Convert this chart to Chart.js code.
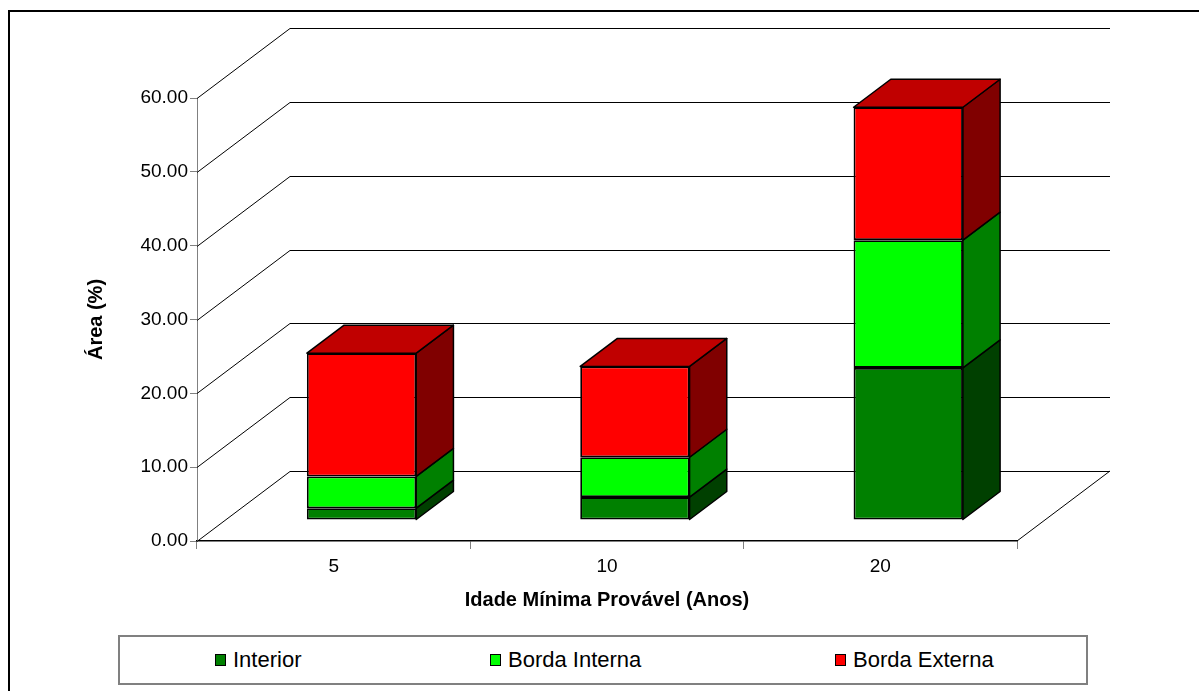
<!DOCTYPE html>
<html>
<head>
<meta charset="utf-8">
<title>Área por idade mínima provável</title>
<script src="https://cdn.jsdelivr.net/npm/chart.js@4.4.1/dist/chart.umd.min.js"></script>
<style>
  html, body { margin: 0; padding: 0; background: #fff; overflow: hidden; }
  #wrap { position: relative; width: 1199px; height: 691px; overflow: hidden; }
  #frame { position: absolute; left: 8px; top: 10px; width: 1300px; height: 800px; border: 2px solid #000; box-sizing: border-box; }
  #chart { position: absolute; left: 0; top: 0; }
  #legend { position: absolute; left: 118px; top: 635px; width: 970px; height: 50px; border: 2px solid #808080; box-sizing: border-box; background: #fff; }
  .item { position: absolute; top: 0; height: 100%; display: flex; align-items: center; font: 22px "Liberation Sans", Arial, sans-serif; color: #000; white-space: nowrap; }
  .swatch { width: 11px; height: 12px; border: 1px solid #000; box-sizing: border-box; margin-right: 7px; }
</style>
</head>
<body>
<div id="wrap">
  <div id="frame"></div>
  <canvas id="chart" width="1199" height="691"></canvas>
  <div id="legend"></div>
</div>
<script>
// data
const categories = ['5', '10', '20'];
const interior = [1.6, 3.1, 20.6];
const bordaInterna = [4.3, 5.4, 17.3];
const bordaExterna = [16.7, 12.3, 18.0];
const yMin = 0, yMax = 60, yStep = 10;

// 3d look (excel style): depth of the floor and where the bars sit in it
const DX = 93, DY = -70;
const BAR_FRONT = 0.3, BAR_DEPTH = 0.4;
const LEGEND_LEFT = [95, 370, 715];

const font = '"Liberation Sans", Arial, sans-serif';

// walls, floor, and the side/top faces of the bars
const depth3d = {
    id: 'depth3d',
    beforeDatasetsDraw(chart) {
        const { ctx, chartArea: a, scales: { y } } = chart;
        ctx.save();
        ctx.strokeStyle = '#000';
        ctx.lineWidth = 1;
        y.ticks.forEach(t => {
            const py = Math.round(y.getPixelForValue(t.value)) + 0.5;
            ctx.beginPath();
            ctx.moveTo(a.left, py);
            ctx.lineTo(a.left + DX, py + DY);
            ctx.lineTo(a.right + DX, py + DY);
            ctx.stroke();
        });
        ctx.beginPath();
        ctx.moveTo(a.right, a.bottom);
        ctx.lineTo(a.right + DX, a.bottom + DY);
        ctx.stroke();
        ctx.restore();

        // bars stand in the middle of the floor depth
        ctx.save();
        ctx.translate(DX * BAR_FRONT, DY * BAR_FRONT);
    },
    afterDatasetsDraw(chart) {
        const ctx = chart.ctx;
        const bx = DX * BAR_DEPTH, by = DY * BAR_DEPTH;
        const last = chart.data.datasets.length - 1;
        ctx.lineWidth = 1.5;
        ctx.lineJoin = 'round';
        ctx.strokeStyle = '#000';
        chart.data.datasets.forEach((ds, i) => {
            const meta = chart.getDatasetMeta(i);
            meta.data.forEach(el => {
                const { x, y, base, width } = el.getProps(['x', 'y', 'base', 'width'], true);
                const l = x - width / 2, r = x + width / 2;
                // right side
                ctx.beginPath();
                ctx.moveTo(r, y);
                ctx.lineTo(r + bx, y + by);
                ctx.lineTo(r + bx, base + by);
                ctx.lineTo(r, base);
                ctx.closePath();
                ctx.fillStyle = ds.sideColor;
                ctx.fill();
                ctx.stroke();
                // top
                if (i === last) {
                    ctx.beginPath();
                    ctx.moveTo(l, y);
                    ctx.lineTo(l + bx, y + by);
                    ctx.lineTo(r + bx, y + by);
                    ctx.lineTo(r, y);
                    ctx.closePath();
                    ctx.fillStyle = ds.topColor;
                    ctx.fill();
                    ctx.stroke();
                }
            });
        });
        ctx.restore();
    }
};

const ctx = document.getElementById('chart').getContext('2d');
const chart = new Chart(ctx, {
    type: 'bar',
    data: {
        labels: categories,
        datasets: [
            { label: 'Interior', data: interior, backgroundColor: '#008000', sideColor: '#004000', topColor: '#006000' },
            { label: 'Borda Interna', data: bordaInterna, backgroundColor: '#00FF00', sideColor: '#008000', topColor: '#00C000' },
            { label: 'Borda Externa', data: bordaExterna, backgroundColor: '#FF0000', sideColor: '#800000', topColor: '#C00000' }
        ]
    },
    options: {
        responsive: false,
        animation: false,
        devicePixelRatio: 1,
        layout: { padding: { left: 60, top: 98, right: 182, bottom: 70 } },
        datasets: {
            bar: {
                borderColor: '#000',
                borderWidth: 1.8,
                borderSkipped: false,
                categoryPercentage: 1,
                barPercentage: 0.4,
                clip: false
            }
        },
        plugins: {
            legend: { display: false },
            tooltip: { enabled: false }
        },
        scales: {
            x: {
                stacked: true,
                offset: true,
                grid: { offset: true, drawOnChartArea: false, color: '#808080', tickLength: 8 },
                border: { color: '#000', width: 1.5 },
                ticks: { color: '#000', padding: 6, font: { family: font, size: 19 } },
                title: {
                    display: true,
                    text: 'Idade Mínima Provável (Anos)',
                    color: '#000',
                    padding: { top: 0, bottom: 9 },
                    font: { family: font, size: 20, weight: 'bold' }
                },
                afterFit(s) { s.height = 80; }
            },
            y: {
                stacked: true,
                min: yMin,
                max: yMax,
                grid: { drawOnChartArea: false, color: '#808080', tickLength: 7 },
                border: { color: '#808080', width: 1 },
                ticks: {
                    stepSize: yStep,
                    color: '#000',
                    padding: 2,
                    font: { family: font, size: 19 },
                    callback: v => v.toFixed(2)
                },
                title: {
                    display: true,
                    text: 'Área (%)',
                    color: '#000',
                    padding: { top: 24, bottom: 0 },
                    font: { family: font, size: 20, weight: 'bold' }
                },
                afterFit(s) { s.width = 137; }
            }
        }
    },
    plugins: [depth3d]
});

// html legend built from the datasets
const legendEl = document.getElementById('legend');
chart.data.datasets.forEach((ds, i) => {
    const item = document.createElement('div');
    item.className = 'item';
    item.style.left = LEGEND_LEFT[i] + 'px';
    const sw = document.createElement('span');
    sw.className = 'swatch';
    sw.style.background = ds.backgroundColor;
    item.appendChild(sw);
    item.appendChild(document.createTextNode(ds.label));
    legendEl.appendChild(item);
});
</script>
</body>
</html>
